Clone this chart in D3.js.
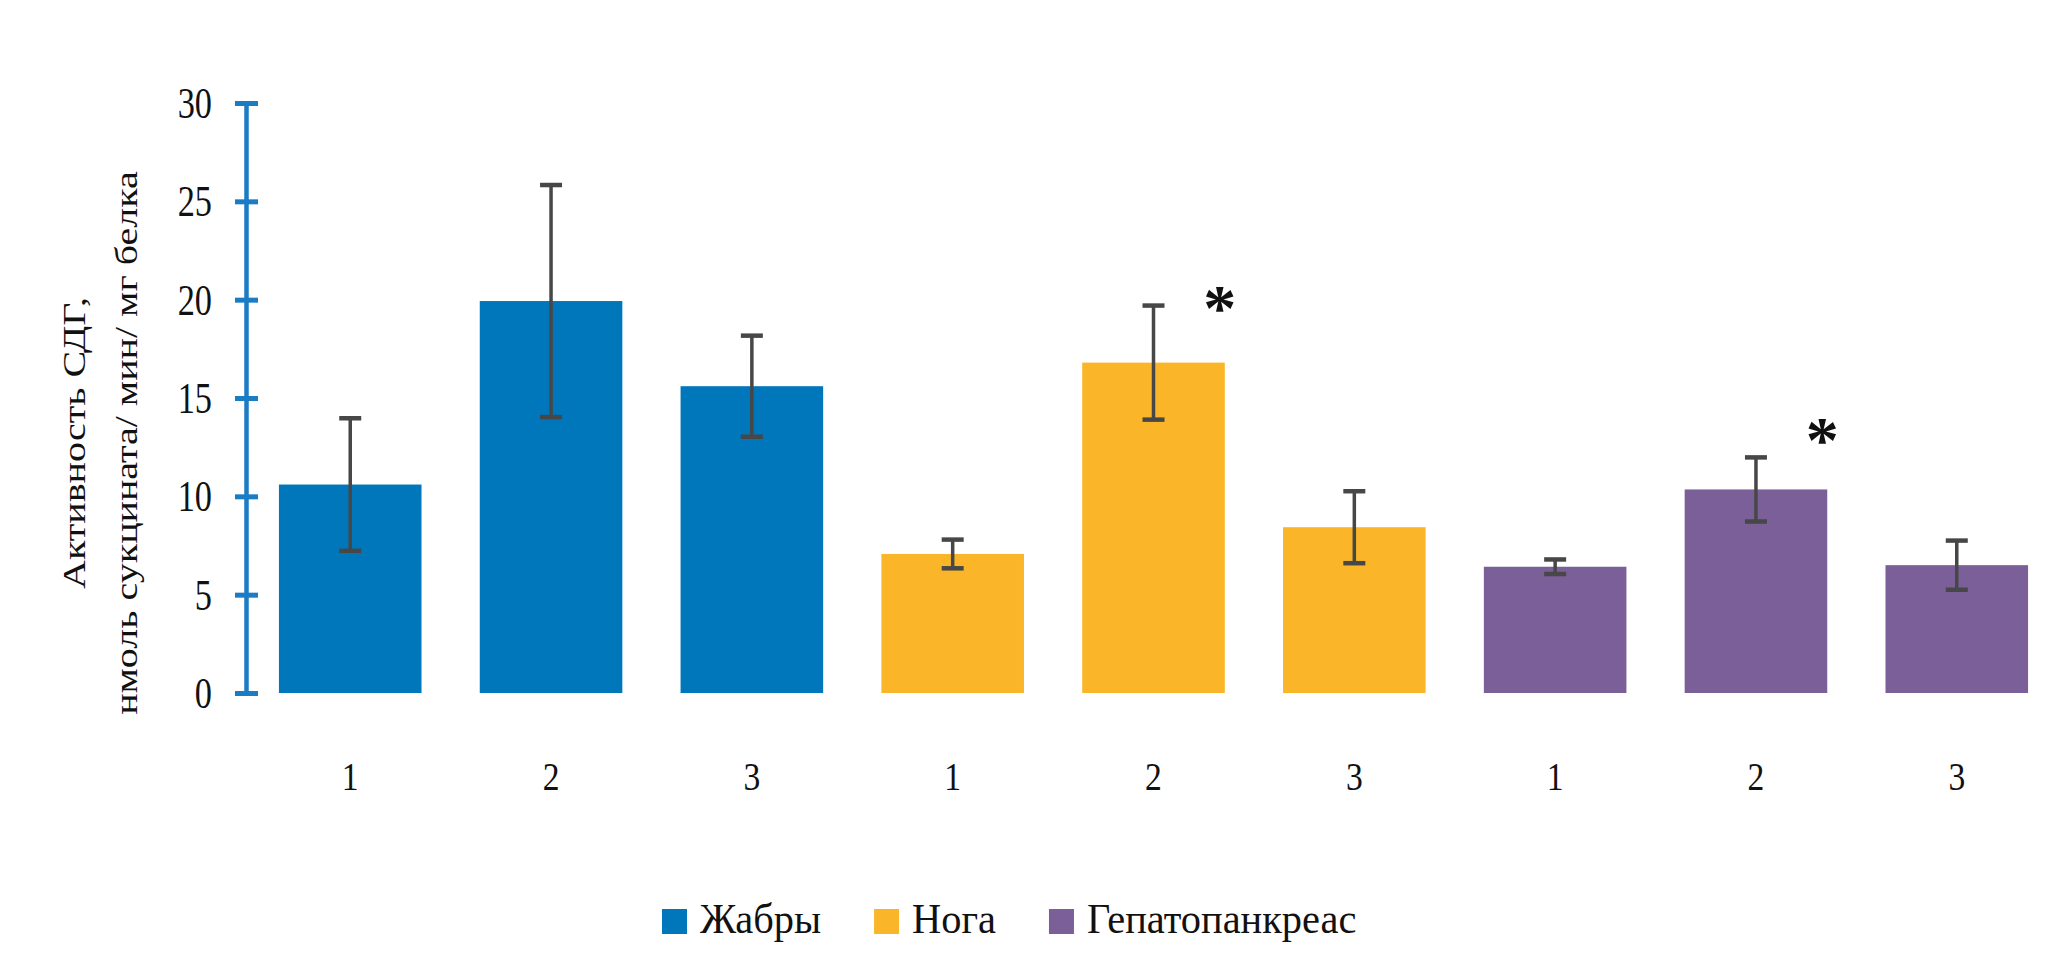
<!DOCTYPE html>
<html>
<head>
<meta charset="utf-8">
<script src="https://cdn.jsdelivr.net/npm/d3@7"></script>
<style>
  body { margin: 0; background: #fff; }
  svg text { font-family: "Liberation Serif", "Times New Roman", serif; fill: #111; }
</style>
</head>
<body>
<div id="chart"></div>
<script>
// data
const tissues = ["Жабры", "Нога", "Гепатопанкреас"];
const groups = ["1", "2", "3"];
const means = [10.6, 19.93, 15.6, 7.07, 16.8, 8.43, 6.42, 10.35, 6.5];
const errs = [3.37, 5.9, 2.57, 0.73, 2.9, 1.83, 0.37, 1.63, 1.25];
const starBars = [4, 7];
const starValues = [20.3, 13.6];
const yTicks = [0, 5, 10, 15, 20, 25, 30];
const colors = ["#0177bb", "#fab628", "#7b5f99"];

const width = 2055, height = 961;

// one row per bar
const rows = means.map((m, i) => ({
  id: i,
  tissue: tissues[Math.floor(i / 3)],
  group: groups[i % 3],
  mean: m,
  err: errs[i],
}));

const svg = d3
  .select("#chart")
  .append("svg")
  .attr("width", width)
  .attr("height", height);

const x = d3
  .scaleBand()
  .domain(rows.map((d) => d.id))
  .range([246, 2061])
  .paddingInner(0.29)
  .paddingOuter(0.164);

const y = d3.scaleLinear().domain([0, 30]).range([693, 103]);

const color = d3.scaleOrdinal().domain(tissues).range(colors);

// the figure text is squeezed horizontally
const tickSx = 0.78, titleSx = 0.78, legSx = 0.94, xLabSx = 0.84;

// bars
svg
  .selectAll(".bar")
  .data(rows)
  .join("rect")
  .attr("class", "bar")
  .attr("x", (d) => x(d.id))
  .attr("y", (d) => y(d.mean))
  .attr("width", x.bandwidth())
  .attr("height", (d) => y(0) - y(d.mean))
  .attr("fill", (d) => color(d.tissue));

// error bars
const eb = svg.selectAll(".err").data(rows).join("g").attr("class", "err");
const cx = (d) => x(d.id) + x.bandwidth() / 2;
eb.append("line")
  .attr("x1", cx)
  .attr("x2", cx)
  .attr("y1", (d) => y(d.mean + d.err))
  .attr("y2", (d) => y(d.mean - d.err))
  .attr("stroke", "#474747")
  .attr("stroke-width", 3.5);
[1, -1].forEach((s) => {
  eb.append("line")
    .attr("x1", (d) => cx(d) - 11)
    .attr("x2", (d) => cx(d) + 11)
    .attr("y1", (d) => y(d.mean + s * d.err))
    .attr("y2", (d) => y(d.mean + s * d.err))
    .attr("stroke", "#474747")
    .attr("stroke-width", 4.5);
});

// y axis
const yAxis = svg
  .append("g")
  .attr("transform", "translate(246,0)")
  .call(d3.axisLeft(y).tickValues(yTicks).tickSize(0).tickPadding(0));
yAxis.select(".domain").attr("stroke", "#1b7cc4").attr("stroke-width", 4.5);
yAxis
  .selectAll(".tick line")
  .attr("x1", -11)
  .attr("x2", 12)
  .attr("stroke", "#1b7cc4")
  .attr("stroke-width", 5);
yAxis
  .selectAll(".tick text")
  .attr("x", -34 / tickSx)
  .attr("dy", "0.33em")
  .attr("transform", `scale(${tickSx},1)`)
  .style("font-size", "44px")
  .style("font-family", "Liberation Serif")
  .attr("fill", "#111");

// x labels
svg
  .selectAll(".xlab")
  .data(rows)
  .join("text")
  .attr("class", "xlab")
  .attr("transform", (d) => `translate(${cx(d)},790) scale(${xLabSx},1)`)
  .attr("text-anchor", "middle")
  .style("font-size", "40px")
  .text((d) => d.group);

// stars
svg
  .selectAll(".star")
  .data(starBars)
  .join("text")
  .attr("class", "star")
  .attr("x", (d) => x(d) + x.bandwidth() - 5)
  .attr("y", (d, i) => y(starValues[i]) + 36)
  .attr("text-anchor", "middle")
  .style("font-size", "66px")
  .style("font-weight", "bold")
  .text("*");

// y title, two lines
const title = svg
  .append("g")
  .attr("transform", `translate(85,443) scale(${titleSx},1) rotate(-90)`);
title
  .append("text")
  .attr("text-anchor", "middle")
  .style("font-size", "40px")
  .text("Активность СДГ,");
title
  .append("text")
  .attr("text-anchor", "middle")
  .attr("y", 52 / titleSx)
  .style("font-size", "40px")
  .text("нмоль сукцината/ мин/ мг белка");

// legend
const leg = svg.append("g").attr("class", "legend");
let lx = 662;
tissues.forEach((t) => {
  leg.append("rect")
    .attr("x", lx)
    .attr("y", 909)
    .attr("width", 25)
    .attr("height", 25)
    .attr("fill", color(t));
  const tx = leg
    .append("text")
    .attr("transform", `translate(${lx + 38},933) scale(${legSx},1)`)
    .style("font-size", "43px")
    .text(t);
  lx += 38 + tx.node().getComputedTextLength() * legSx + 53;
});
</script>
</body>
</html>
